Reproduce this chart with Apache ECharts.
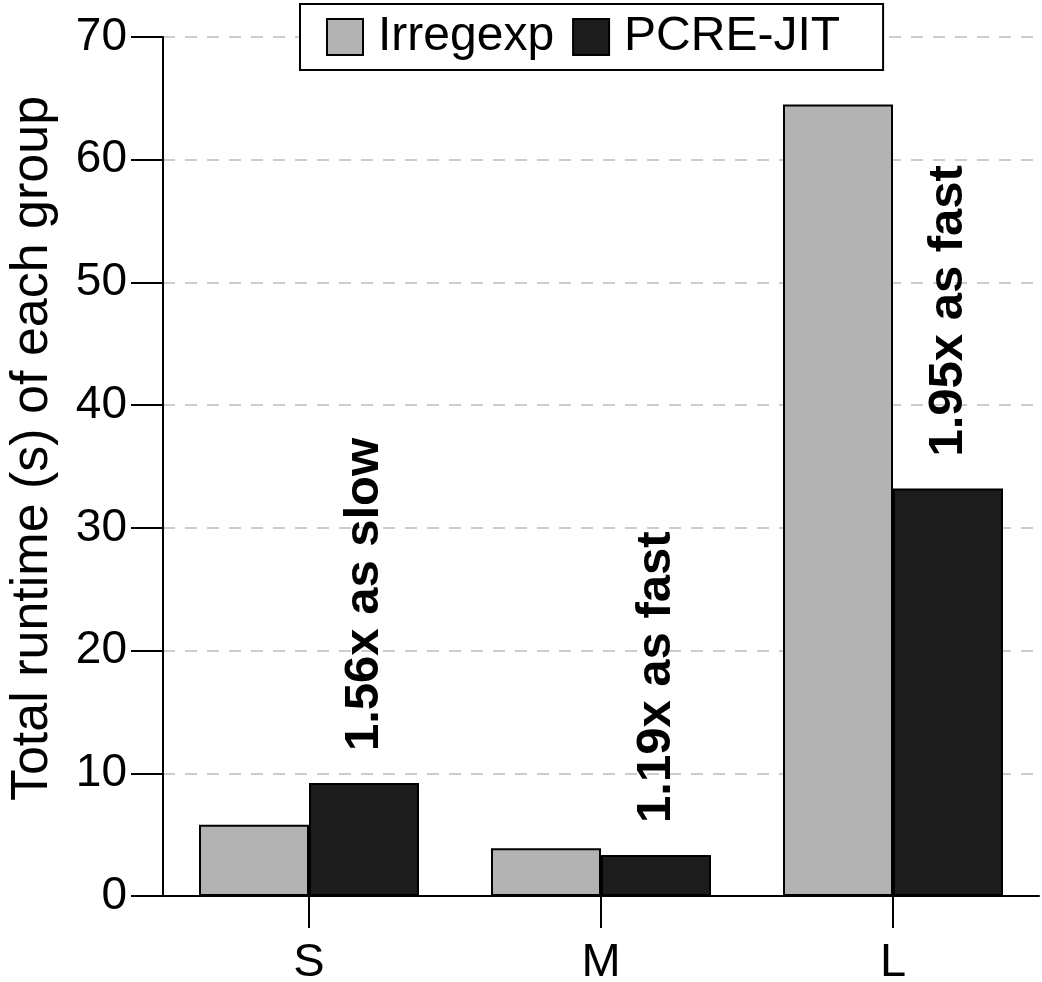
<!DOCTYPE html>
<html>
<head>
<meta charset="utf-8">
<title>Total runtime by group</title>
<script src="https://cdn.jsdelivr.net/npm/echarts@6/dist/echarts.min.js"></script>
<style>
  html, body { margin: 0; padding: 0; background: #fff; }
  #chart { width: 1042px; height: 982px; }
</style>
</head>
<body>
<div id="chart"></div>
<script>
// data
const groups = ["S", "M", "L"];
const irregexp = [5.8, 3.9, 64.5];
const pcreJit = [9.2, 3.35, 33.2];
const ratioLabels = ["1.56x as slow", "1.19x as fast", "1.95x as fast"];
const yTicks = [0, 10, 20, 30, 40, 50, 60, 70];

const FONT = '"Liberation Sans", Arial, Helvetica, sans-serif';

const chart = echarts.init(document.getElementById("chart"));

const option = {
  animation: false,
  backgroundColor: "#fff",
  textStyle: { fontFamily: FONT, color: "#000" },
  grid: { left: 163, right: 3, top: 37, bottom: 86, containLabel: false, outerBoundsMode: "none" },
  legend: {
    left: 300,
    top: 4,
    padding: [9, 43, 9, 26],
    borderColor: "#000",
    borderWidth: 2,
    backgroundColor: "#fff",
    itemWidth: 36,
    itemHeight: 36,
    itemGap: 18,
    icon: "rect",
    textStyle: { fontFamily: FONT, fontSize: 48, color: "#000", padding: [0, 0, 0, 10], lineHeight: 48 },
    data: ["Irregexp", "PCRE-JIT"]
  },
  xAxis: {
    type: "category",
    data: groups,
    axisLine: { lineStyle: { color: "#000", width: 2 } },
    axisTick: { show: true, alignWithLabel: true, length: 32, lineStyle: { color: "#000", width: 2 } },
    axisLabel: { fontFamily: FONT, fontSize: 47, color: "#000", margin: 44 },
    splitLine: { show: false }
  },
  yAxis: {
    type: "value",
    min: yTicks[0],
    max: yTicks[yTicks.length - 1],
    interval: 10,
    name: "Total runtime (s) of each group",
    nameLocation: "middle",
    nameGap: 104,
    nameTextStyle: { fontFamily: FONT, fontSize: 52, color: "#000", padding: [0, 0, 0, 36] },
    axisLine: { show: true, lineStyle: { color: "#000", width: 2 } },
    axisTick: { show: true, length: 32, lineStyle: { color: "#000", width: 2 } },
    axisLabel: { fontFamily: FONT, fontSize: 46, color: "#000", margin: 36 },
    splitLine: { show: true, lineStyle: { color: "#cccccc", width: 2, type: [12, 10] } }
  },
  series: [
    {
      name: "Irregexp",
      type: "bar",
      data: irregexp,
      barWidth: 110,
      barGap: "0%",
      itemStyle: { color: "#b3b3b3", borderColor: "#000", borderWidth: 2 }
    },
    {
      name: "PCRE-JIT",
      type: "bar",
      data: pcreJit,
      barWidth: 110,
      barGap: "0%",
      itemStyle: { color: "#1c1c1c", borderColor: "#000", borderWidth: 2 },
      label: {
        show: true,
        position: "top",
        rotate: 90,
        align: "left",
        verticalAlign: "middle",
        distance: 32,
        fontFamily: FONT,
        fontWeight: "bold",
        fontSize: 49,
        color: "#000",
        formatter: (p) => ratioLabels[p.dataIndex]
      }
    }
  ]
};

chart.setOption(option);
</script>
</body>
</html>
